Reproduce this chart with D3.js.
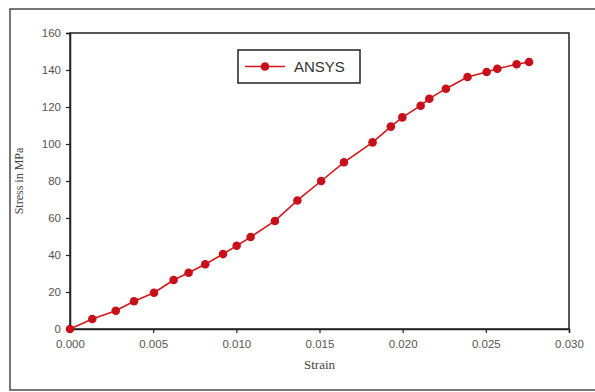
<!DOCTYPE html>
<html>
<head>
<meta charset="utf-8">
<script src="https://cdn.jsdelivr.net/npm/d3@7"></script>
<style>
  body { margin: 0; background: #fff; }
  svg { display: block; }
</style>
</head>
<body>
<script>
// strain values
let strain = [0, 0.00134, 0.00275, 0.00385, 0.00505, 0.00623, 0.00713, 0.00813, 0.0092, 0.01002,
  0.01086, 0.01232, 0.01367, 0.0151, 0.01647, 0.01819, 0.01929, 0.01998, 0.02108, 0.0216,
  0.0226, 0.0239, 0.02505, 0.02569, 0.02685, 0.0276];
// stress in MPa
let stress = [0, 5.4, 9.9, 15, 19.6, 26.5, 30.4, 35, 40.5, 45,
  49.7, 58.4, 69.5, 80, 90.1, 100.9, 109.4, 114.4, 120.7, 124.5,
  129.9, 136.2, 138.9, 140.7, 143.1, 144.3];
let xTicks = [0, 0.005, 0.01, 0.015, 0.02, 0.025, 0.03];
let yTicks = [0, 20, 40, 60, 80, 100, 120, 140, 160];
let seriesName = "ANSYS";

let width = 595, height = 392;
let plotLeft = 70, plotRight = 569, plotTop = 33, plotBottom = 329;
let red = "#d8141c";

let svg = d3.select("body").append("svg")
    .attr("width", width)
    .attr("height", height);

// outer frame
svg.append("rect")
    .attr("x", 10).attr("y", 9)
    .attr("width", 600).attr("height", 381)
    .attr("fill", "none")
    .attr("stroke", "#555")
    .attr("stroke-width", 1.6);

let x = d3.scaleLinear().domain([0, 0.03]).range([plotLeft, plotRight]);
let y = d3.scaleLinear().domain([0, 160]).range([plotBottom, plotTop]);

// plot box
svg.append("rect")
    .attr("x", plotLeft).attr("y", plotTop)
    .attr("width", plotRight - plotLeft).attr("height", plotBottom - plotTop)
    .attr("fill", "none")
    .attr("stroke", "#222")
    .attr("stroke-width", 1.5);

let xAxis = svg.append("g")
    .attr("transform", "translate(0," + plotBottom + ")")
    .call(d3.axisBottom(x).tickValues(xTicks).tickFormat(d3.format(".3f")).tickSize(4).tickPadding(7));

let yAxis = svg.append("g")
    .attr("transform", "translate(" + plotLeft + ",0)")
    .call(d3.axisLeft(y).tickValues(yTicks).tickSize(4).tickPadding(5));

[xAxis, yAxis].forEach(function (g) {
    g.select(".domain").attr("stroke", "#222").attr("stroke-width", 1.5);
    g.selectAll(".tick line").attr("stroke", "#222").attr("stroke-width", 1.2);
    g.selectAll(".tick text")
        .attr("fill", "#555")
        .style("font-family", "Liberation Sans, Arial, sans-serif")
        .style("font-size", "11.5px");
});

// axis titles
svg.append("text")
    .attr("x", (plotLeft + plotRight) / 2)
    .attr("y", 369)
    .attr("text-anchor", "middle")
    .attr("fill", "#444")
    .style("font-family", "Liberation Serif, Times New Roman, serif")
    .style("font-size", "13px")
    .text("Strain");

svg.append("text")
    .attr("transform", "translate(23," + ((plotTop + plotBottom) / 2) + ") rotate(-90)")
    .attr("text-anchor", "middle")
    .attr("fill", "#444")
    .style("font-family", "Liberation Serif, Times New Roman, serif")
    .style("font-size", "12px")
    .text("Stress in MPa");

let points = strain.map(function (s, i) { return { x: s, y: stress[i] }; });

let line = d3.line()
    .x(function (d) { return x(d.x); })
    .y(function (d) { return y(d.y); });

svg.append("path")
    .datum(points)
    .attr("d", line)
    .attr("fill", "none")
    .attr("stroke", red)
    .attr("stroke-width", 1.6);

svg.append("g").selectAll("circle")
    .data(points)
    .enter().append("circle")
    .attr("cx", function (d) { return x(d.x); })
    .attr("cy", function (d) { return y(d.y); })
    .attr("r", 4.3)
    .attr("fill", "#c8101a");

// legend
let legend = svg.append("g").attr("transform", "translate(238,50)");
legend.append("rect")
    .attr("width", 122).attr("height", 33)
    .attr("fill", "#fff")
    .attr("stroke", "#222")
    .attr("stroke-width", 1.5);
legend.append("line")
    .attr("x1", 7).attr("x2", 47)
    .attr("y1", 16.5).attr("y2", 16.5)
    .attr("stroke", red)
    .attr("stroke-width", 1.6);
legend.append("circle")
    .attr("cx", 27).attr("cy", 16.5).attr("r", 4.3)
    .attr("fill", "#c8101a");
legend.append("text")
    .attr("x", 56).attr("y", 22)
    .attr("fill", "#333")
    .style("font-family", "Liberation Sans, Arial, sans-serif")
    .style("font-size", "15px")
    .text(seriesName);
</script>
</body>
</html>
